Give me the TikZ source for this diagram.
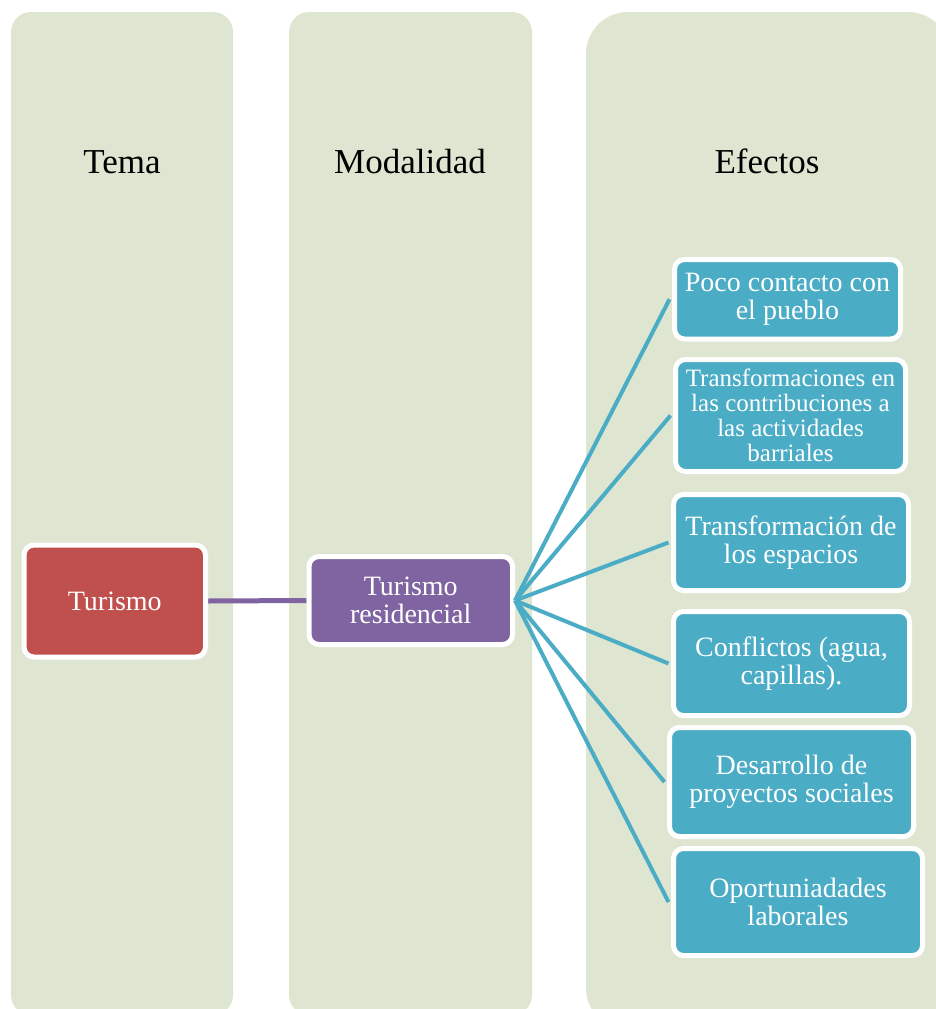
\documentclass[tikz,border=0pt]{standalone}
\usepackage{fontspec}
\setmainfont{Liberation Serif}
\definecolor{colbg}{HTML}{DEE6D1}
\definecolor{temared}{HTML}{C0504D}
\definecolor{modpurple}{HTML}{8064A2}
\definecolor{efteal}{HTML}{4BACC6}
\pgfdeclarelayer{columns}
\pgfdeclarelayer{links}
\pgfsetlayers{columns,links,main}
\begin{document}
\begin{tikzpicture}[x=1pt,y=-1pt,
  coltitle/.style={anchor=base,text=black,font=\fontsize{35}{35}\selectfont},
  box/.style={draw=white,line width=5pt,rounded corners=10pt,text=white,
    align=center,inner sep=0pt,font=\fontsize{28}{28}\selectfont},
  smalltext/.style={font=\fontsize{25}{25}\selectfont},
  temabox/.style={box,fill=temared},
  modbox/.style={box,fill=modpurple},
  efbox/.style={box,fill=efteal},
  modlink/.style={draw=modpurple,line width=5pt},
  eflink/.style={draw=efteal,line width=4pt}]
\useasboundingbox (0,0) rectangle (936,1009);

% three column panels
\begin{pgfonlayer}{columns}
  \begin{scope}
    \clip (0,0) rectangle (936,1009);
    \fill[colbg,rounded corners=20pt] (11,12) rectangle (233,1015);
    \fill[colbg,rounded corners=20pt] (289,12) rectangle (532,1015);
    \fill[colbg,rounded corners=42pt] (586,12) rectangle (950,1030);
  \end{scope}
\end{pgfonlayer}

% column headings
\node[coltitle] (hTema) at (122,173) {Tema};
\node[coltitle] (hMod) at (410,173) {Modalidad};
\node[coltitle] (hEf) at (767,173) {Efectos};

% boxes
\node[temabox,minimum width=181.5pt,minimum height=112pt] (tur) at (114.75,601) {Turismo};
\node[modbox,minimum width=203.5pt,minimum height=88pt] (res) at (410.75,600.5) {Turismo\\residencial};

\node[efbox,minimum width=226pt,minimum height=79.5pt] (e1) at (787.5,299.25) {Poco contacto con\\el pueblo};
\node[efbox,smalltext,minimum width=230pt,minimum height=112pt] (e2) at (790.5,415.5) {Transformaciones en\\las contribuciones a\\las actividades\\barriales};
\node[efbox,minimum width=235pt,minimum height=96pt] (e3) at (791,542.5) {Transformación de\\los espacios};
\node[efbox,minimum width=236pt,minimum height=104pt] (e4) at (791.5,663.5) {Conflictos (agua,\\capillas).};
\node[efbox,minimum width=244pt,minimum height=109pt] (e5) at (791.5,782) {Desarrollo de\\proyectos sociales};
\node[efbox,minimum width=249pt,minimum height=107pt] (e6) at (798,902) {Oportuniadades\\laborales};

% connectors
\begin{pgfonlayer}{links}
  \draw[modlink] (tur.east) -- (res.west);
\end{pgfonlayer}
% the fan starts on the purple box's outline and stops at each white frame
\foreach \e in {e1,e2,e3,e4,e5,e6}
  \draw[eflink] (res.east) -- ([xshift=-2.5pt]\e.west);
\end{tikzpicture}
\end{document}
